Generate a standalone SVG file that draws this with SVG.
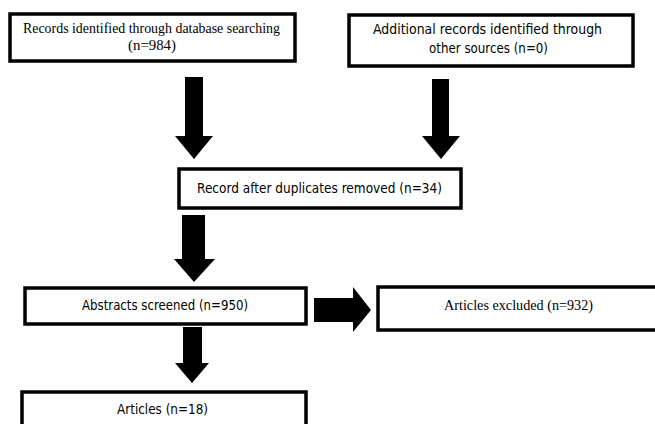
<svg xmlns="http://www.w3.org/2000/svg" width="655" height="424" viewBox="0 0 655 424">
<style>
.box{fill:#fff;stroke:#000;stroke-width:3.5}
.serif{font-family:"Liberation Serif","Times New Roman",serif;font-size:15px;fill:#000}
.sans{font-family:"DejaVu Sans","Liberation Sans",sans-serif;font-size:14px;fill:#000}
.arrow{fill:#000}
</style>
<rect width="655" height="424" fill="#fff"/>
<g id="connectors">
<polygon class="arrow" points="185,77 203,77 203,136 213,136 194,159 175,136 185,136"/>
<polygon class="arrow" points="432,79 449,79 449,136 460,136 441,159 422,136 432,136"/>
<polygon class="arrow" points="182,215 205,215 205,259 215,259 194,282 174,259 182,259"/>
<polygon class="arrow" points="183,327 202,327 202,363 209,363 192,383 175,363 183,363"/>
<polygon class="arrow" points="314,298 353,298 353,287 371,310 353,332 353,322 314,322"/>
</g>
<g id="n1">
<rect class="box" x="10" y="14" width="285" height="47"/>
<text class="serif" x="151.5" y="33" text-anchor="middle" textLength="257" lengthAdjust="spacingAndGlyphs">Records identified through database searching</text>
<text class="serif" x="152" y="50" text-anchor="middle" textLength="48" lengthAdjust="spacingAndGlyphs">(n=984)</text>
</g>
<g id="n2">
<rect class="box" x="349" y="15" width="284" height="51"/>
<text class="sans" x="487.5" y="34" text-anchor="middle" textLength="229" lengthAdjust="spacingAndGlyphs">Additional records identified through</text>
<text class="sans" x="488.5" y="53" text-anchor="middle" textLength="119" lengthAdjust="spacingAndGlyphs">other sources (n=0)</text>
</g>
<g id="n3">
<rect class="box" x="179" y="169" width="282" height="39"/>
<text class="sans" x="319.5" y="193" text-anchor="middle" textLength="245" lengthAdjust="spacingAndGlyphs">Record after duplicates removed (n=34)</text>
</g>
<g id="n4">
<rect class="box" x="25" y="288" width="281" height="36"/>
<text class="sans" x="165" y="310" text-anchor="middle" textLength="166" lengthAdjust="spacingAndGlyphs">Abstracts screened (n=950)</text>
</g>
<g id="n5">
<rect class="box" x="378" y="287" width="300" height="43"/>
<text class="serif" x="518.5" y="310" text-anchor="middle" textLength="149" lengthAdjust="spacingAndGlyphs">Articles excluded (n=932)</text>
</g>
<g id="n6">
<rect class="box" x="22" y="392" width="284" height="60"/>
<text class="sans" x="162.5" y="414" text-anchor="middle" textLength="91" lengthAdjust="spacingAndGlyphs">Articles (n=18)</text>
</g>
</svg>
